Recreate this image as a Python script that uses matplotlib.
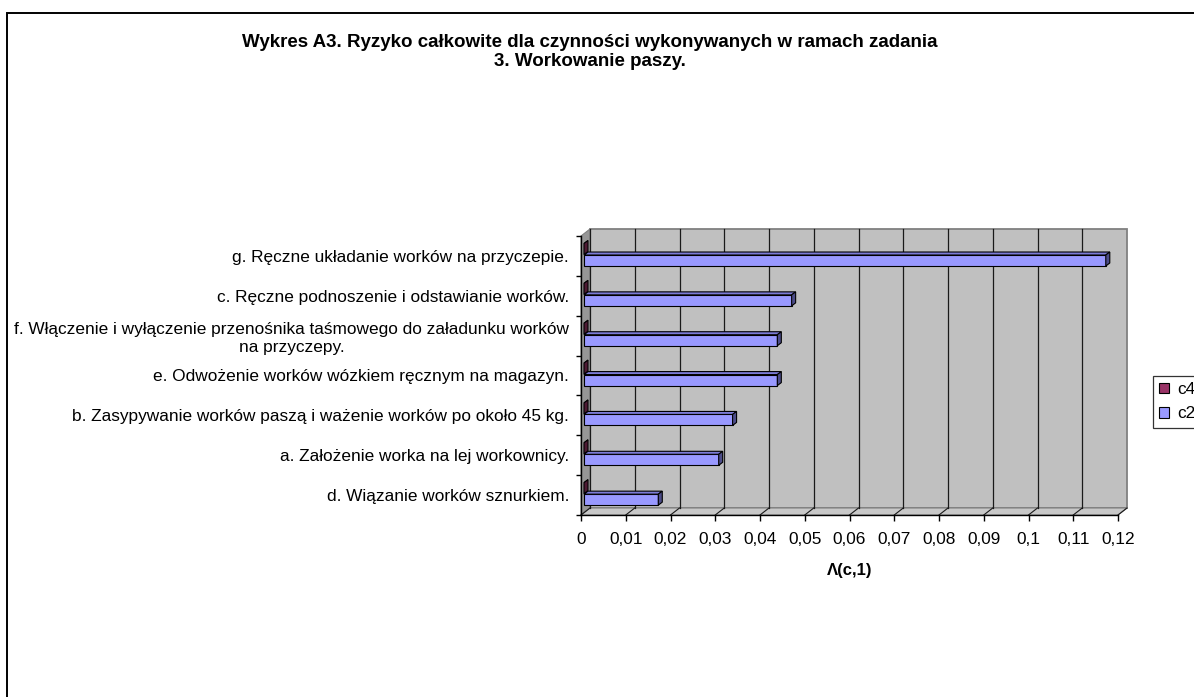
import matplotlib
matplotlib.use('Agg')
import matplotlib.pyplot as plt
from matplotlib.patches import Polygon, Rectangle, Patch

plt.rcParams['font.family'] = ['Liberation Sans', 'DejaVu Sans']

# kategorie od dołu do góry
categories = [
    'd. Wiązanie worków sznurkiem.',
    'a. Założenie worka na lej workownicy.',
    'b. Zasypywanie worków paszą i ważenie worków po około 45 kg.',
    'e. Odwożenie worków wózkiem ręcznym na magazyn.',
    'f. Włączenie i wyłączenie przenośnika taśmowego do załadunku worków\nna przyczepy.',
    'c. Ręczne podnoszenie i odstawianie worków.',
    'g. Ręczne układanie worków na przyczepie.',
]
c2 = [0.0166, 0.0301, 0.0332, 0.0432, 0.0432, 0.0464, 0.1166]
c4 = [0, 0, 0, 0, 0, 0, 0]
series_names = ['c4', 'c2']

x_ticks = [0, 0.01, 0.02, 0.03, 0.04, 0.05, 0.06, 0.07, 0.08, 0.09, 0.1, 0.11, 0.12]
x_tick_labels = ['0', '0,01', '0,02', '0,03', '0,04', '0,05', '0,06',
                 '0,07', '0,08', '0,09', '0,1', '0,11', '0,12']

title = ('Wykres A3. Ryzyko całkowite dla czynności wykonywanych w ramach zadania\n'
         '3. Workowanie paszy.')
xlabel = 'Λ(c,1)'

W, H = 1194, 697
fig = plt.figure(figsize=(W / 100, H / 100), dpi=100)

# ramka wykresu
fig.add_artist(Rectangle((7 / W, -0.1), 1.2, 1 - 13 / H + 0.1, transform=fig.transFigure,
                         fill=False, edgecolor='black', linewidth=1.4, clip_on=False))

# przednia płaszczyzna osi (piksele)
ax_l, ax_r, ax_t, ax_b = 581, 1118, 236, 515
ax = fig.add_axes([ax_l / W, 1 - ax_b / H, (ax_r - ax_l) / W, (ax_b - ax_t) / H])
ax.set_xlim(0, 0.12)
ax.set_ylim(-0.5, len(categories) - 0.5)
ax.set_facecolor('none')

ux = 0.12 / (ax_r - ax_l)
uy = len(categories) / (ax_b - ax_t)
wx, wy = 9 * ux, 7 * uy      # głębia ścian
bx, by = 4 * ux, 3 * uy      # głębia słupków
sx = 3 * ux
y0, y1 = -0.5, len(categories) - 0.5
xmax = x_ticks[-1]

# ściany
ax.add_patch(Polygon([(wx, y0 + wy), (xmax + wx, y0 + wy), (xmax + wx, y1 + wy), (wx, y1 + wy)],
                     facecolor='#c0c0c0', edgecolor='#808080', lw=1.3, zorder=0.5, clip_on=False))
ax.add_patch(Polygon([(0, y0), (0, y1), (wx, y1 + wy), (wx, y0 + wy)],
                     facecolor='#969696', edgecolor='#808080', lw=0.8, zorder=0.6, clip_on=False))
ax.add_patch(Polygon([(0, y0), (xmax, y0), (xmax + wx, y0 + wy), (wx, y0 + wy)],
                     facecolor='#c8c8c8', edgecolor='#808080', lw=0.8, zorder=0.6, clip_on=False))
for x in x_ticks[:-1]:
    ax.plot([x + wx, x + wx], [y0 + wy, y1 + wy], color='#1a1a1a', lw=0.9, zorder=0.7, clip_on=False)
for x in x_ticks:
    ax.plot([x, x + wx], [y0, y0 + wy], color='#1a1a1a', lw=0.8, zorder=0.7, clip_on=False)

# słupki 3D
bar_h = 0.276
offsets = {'c2': -0.115, 'c4': 0.174}
colors = {'c2': ('#9999ff', '#7b7bd6', '#4c4c88'),
          'c4': ('#993366', '#7a2952', '#4d1a33')}
for name, vals in [('c2', c2), ('c4', c4)]:
    front, top, side = colors[name]
    ys = [i + offsets[name] for i in range(len(categories))]
    ax.barh(ys, vals, height=bar_h, left=sx, color=front, edgecolor='black', lw=0.8, zorder=2)
    for y, v in zip(ys, vals):
        yt, yb = y + bar_h / 2, y - bar_h / 2
        xa, xb = sx, sx + v
        ax.add_patch(Polygon([(xa, yt), (xb, yt), (xb + bx, yt + by), (xa + bx, yt + by)],
                             facecolor=top, edgecolor='black', lw=0.8, zorder=2, clip_on=False))
        ax.add_patch(Polygon([(xb, yb), (xb, yt), (xb + bx, yt + by), (xb + bx, yb + by)],
                             facecolor=side, edgecolor='black', lw=0.8, zorder=2, clip_on=False))

# osie
for s in ['top', 'right']:
    ax.spines[s].set_visible(False)
for s in ['left', 'bottom']:
    ax.spines[s].set_color('black')
    ax.spines[s].set_linewidth(1.0)
    ax.spines[s].set_zorder(3)

ax.set_xticks(x_ticks)
ax.set_xticklabels(x_tick_labels, fontsize=12.4)
ax.tick_params(axis='x', length=4.3, width=1.0, pad=8, color='black')
ax.set_yticks(range(len(categories)))
ax.set_yticklabels(categories, fontsize=12.4)
ax.set_yticks([i - 0.5 for i in range(len(categories) + 1)], minor=True)
ax.tick_params(axis='y', which='major', length=0, pad=8.6)
ax.tick_params(axis='y', which='minor', length=3.6, width=1.0, color='black')
for lbl in ax.get_yticklabels():
    lbl.set_multialignment('center')

ax.set_xlabel(xlabel, fontsize=12, fontweight='bold', va='center')
ax.xaxis.set_label_coords(0.5, -(571 - ax_b) / (ax_b - ax_t))

fig.text(590 / W, 1 - 52 / H, title, ha='center', va='center',
         fontsize=13.5, fontweight='bold', linespacing=1.1)

handles = [Patch(facecolor=colors['c4'][0], edgecolor='black', lw=0.8),
           Patch(facecolor=colors['c2'][0], edgecolor='black', lw=0.8)]
leg = fig.legend(handles, series_names, loc='upper left', bbox_to_anchor=(1153 / W, 1 - 376 / H),
                 fontsize=12.4, frameon=True, fancybox=False, borderaxespad=0, borderpad=0.36,
                 handlelength=0.54, handleheight=0.54, handletextpad=0.48, labelspacing=0.54)
leg.get_frame().set_edgecolor('black')
leg.get_frame().set_linewidth(0.9)

fig.savefig('out.png', dpi=100)
